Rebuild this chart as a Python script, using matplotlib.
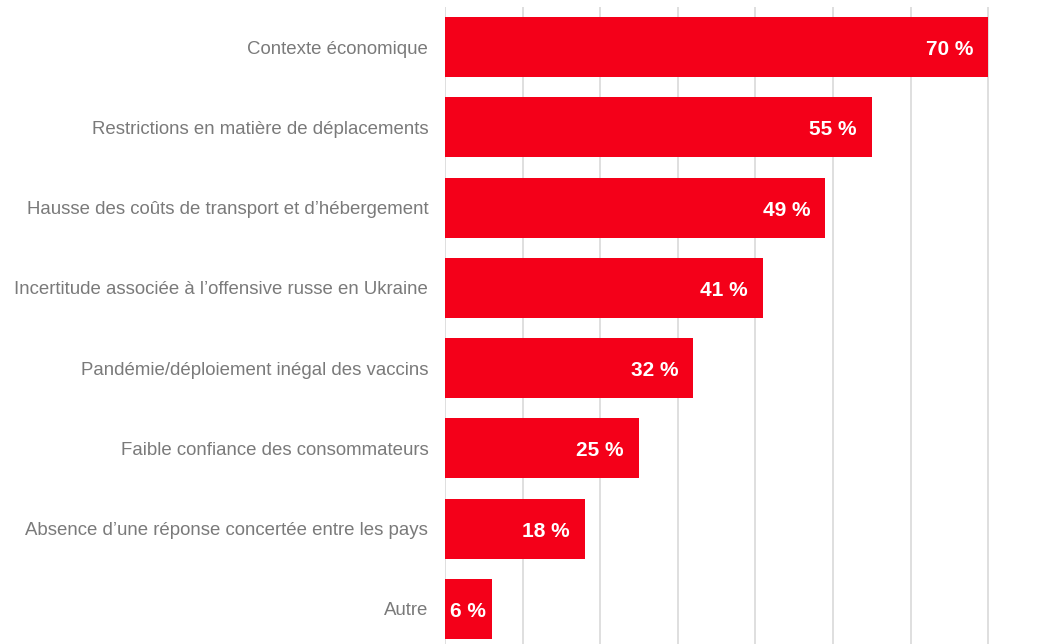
import matplotlib.pyplot as plt

plt.rcParams['font.family'] = ['Liberation Sans', 'DejaVu Sans']

# données
categories = [
    "Contexte économique",
    "Restrictions en matière de déplacements",
    "Hausse des coûts de transport et d’hébergement",
    "Incertitude associée à l’offensive russe en Ukraine",
    "Pandémie/déploiement inégal des vaccins",
    "Faible confiance des consommateurs",
    "Absence d’une réponse concertée entre les pays",
    "Autre",
]
values = [70, 55, 49, 41, 32, 25, 18, 6]
grid_ticks = [0, 10, 20, 30, 40, 50, 60, 70, 80]

fig = plt.figure(figsize=(10.61, 6.44), dpi=100)
ax = fig.add_axes([445 / 1061, -5 / 644, 621 / 1061, 642 / 644])

y = list(range(len(categories)))
ax.barh(y, values, height=0.75, color='#F40019', zorder=2)

for yi, v in zip(y, values):
    label = f"{v} %"
    if v < 10:
        ax.text(v / 2, yi + 0.03, label, ha='center', va='center',
                color='white', fontsize=15, fontweight='bold', zorder=3)
    else:
        ax.annotate(label, (v, yi + 0.03), xytext=(-11, 0), textcoords='offset points',
                    ha='right', va='center', color='white', fontsize=15,
                    fontweight='bold', zorder=3)

ax.set_xlim(0, 80)
ax.set_ylim(len(categories) - 0.5, -0.5)
ax.set_xticks(grid_ticks)
ax.set_xticklabels([])
ax.set_yticks(y)
ax.set_yticklabels(categories, fontsize=13.4, color='#7A7A7A')
ax.tick_params(axis='y', length=0, pad=12)
ax.tick_params(axis='x', length=0)
ax.grid(axis='x', color='#D9D9D9', linewidth=1.2, zorder=1)
for s in ax.spines.values():
    s.set_visible(False)

fig.savefig('out.png', dpi=100)
